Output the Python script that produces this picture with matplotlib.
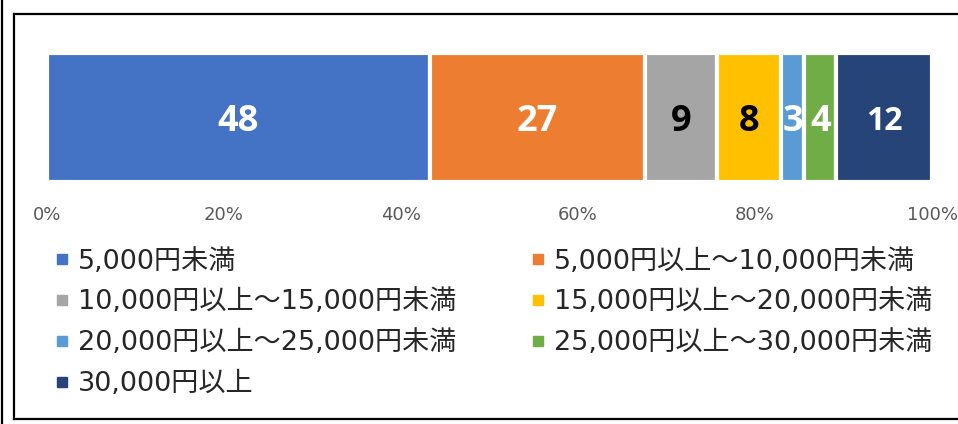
import numpy as np
import matplotlib.pyplot as plt
from matplotlib.lines import Line2D

plt.rcParams['font.family'] = ['DejaVu Sans', 'Noto Sans CJK JP']

labels = ['5,000円未満', '5,000円以上～10,000円未満', '10,000円以上～15,000円未満',
          '15,000円以上～20,000円未満', '20,000円以上～25,000円未満',
          '25,000円以上～30,000円未満', '30,000円以上']
values = np.array([48, 27, 9, 8, 3, 4, 12])
colors = ['#4472C4', '#ED7D31', '#A5A5A5', '#FFC000', '#5B9BD5', '#70AD47', '#264478']
text_colors = ['white', 'white', 'black', 'black', 'white', 'white', 'white']
label_sizes = [26, 26, 26, 26, 26, 26, 23]

W, H = 958, 424
fig = plt.figure(figsize=(W / 100, H / 100), dpi=100)

# axes placed so that bar fills it vertically
ax = fig.add_axes([47 / W, 1 - 182 / H, (932 - 47) / W, (182 - 53) / H])
shares = values / values.sum() * 100
left = 0
for v, s, c, tc, fs in zip(values, shares, colors, text_colors, label_sizes):
    ax.barh(0, s, left=left, height=1, color=c, edgecolor='white', linewidth=3)
    ax.text(left + s / 2, 0.0, str(v), ha='center', va='center_baseline', color=tc,
            fontsize=fs, fontweight='bold', family='Open Sans')
    left += s

ax.set_xlim(0, 100)
ax.set_ylim(-0.5, 0.5)
ax.set_xticks(np.arange(0, 101, 20))
ax.set_xticklabels([f'{t}%' for t in range(0, 101, 20)], fontsize=13, color='#595959')
ax.tick_params(axis='x', length=0, pad=17)
ax.set_yticks([])
for sp in ax.spines.values():
    sp.set_visible(False)

# legend, filled row by row
order = [0, 2, 4, 6, 1, 3, 5]
handles = [Line2D([], [], marker='s', linestyle='none', markersize=7.5,
                  markerfacecolor=colors[i], markeredgecolor=colors[i]) for i in order]
fig.legend(handles, [labels[i] for i in order], ncol=2, loc='upper left',
           bbox_to_anchor=(40 / W, 1 - 235 / H), frameon=False, fontsize=19.5,
           handlelength=0.6, handletextpad=0.3, columnspacing=2.7, labelspacing=0.55,
           borderpad=0, labelcolor='#262626')

# outer frame lines
fig.add_artist(Line2D([14 / W, 1], [1 - 14 / H, 1 - 14 / H], color='black', lw=1.6))
fig.add_artist(Line2D([14 / W, 14 / W], [1 - 14 / H, 1 - 419 / H], color='black', lw=1.6))
fig.add_artist(Line2D([14 / W, 1], [1 - 419 / H, 1 - 419 / H], color='black', lw=1.6))
fig.add_artist(Line2D([1.5 / W, 1.5 / W], [0, 1], color='black', lw=1.6))

fig.savefig('out.png', dpi=100)
